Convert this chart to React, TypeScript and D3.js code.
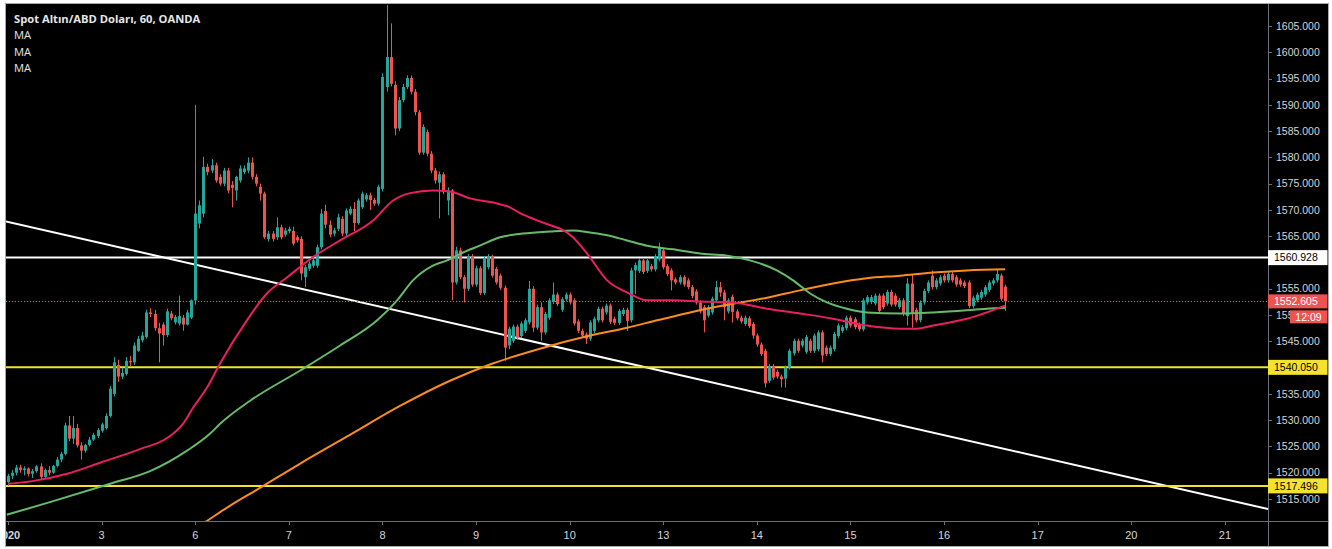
import React from "react";
import * as d3 from "d3";

// ---- Data (hourly OHLC, Spot Gold / USD, OANDA) ----
const opens = [
  1518.2,1519.4,1520.0,1521.0,1520.5,1520.8,1519.8,1520.3,1521.2,1519.2,1520.5,1520.0,1521.3,1522.5,1523.6,1529.0,1526.5,1528.5,1525.2,1524.2,
  1525.3,1526.3,1527.0,1528.0,1528.5,1530.8,1535.0,1540.5,1538.3,1538.8,1541.3,1541.0,1543.2,1545.2,1545.8,1550.5,1550.2,1547.5,1548.2,1546.2,
  1550.3,1548.6,1548.4,1549.5,1548.2,1549.5,1552.8,1567.4,1569.3,1578.2,1577.5,1578.5,1576.3,1575.0,1577.5,1574.8,1573.7,1575.6,1577.2,1577.5,
  1579.0,1576.3,1574.4,1573.1,1564.5,1565.5,1564.8,1566.7,1565.3,1566.0,1566.0,1564.8,1564.5,1557.2,1558.8,1559.4,1559.4,1562.9,1569.8,1567.2,
  1565.5,1566.4,1568.3,1565.5,1569.3,1570.2,1567.5,1570.5,1572.0,1572.8,1571.9,1571.2,1574.0,1593.4,1599.1,1593.8,1585.5,1590.9,1593.4,1595.1,
  1592.5,1588.6,1580.9,1584.8,1580.7,1577.5,1575.2,1576.8,1571.8,1573.7,1556.2,1562.3,1557.2,1555.0,1561.2,1555.8,1558.9,1554.2,1559.1,1561.1,
  1558.8,1557.5,1555.2,1544.2,1545.1,1547.8,1546.0,1547.0,1548.6,1555.0,1547.6,1551.5,1546.7,1549.5,1552.5,1553.9,1551.0,1553.0,1553.9,1552.8,
  1548.8,1547.0,1546.3,1545.5,1547.0,1549.0,1551.2,1550.5,1551.8,1549.3,1548.5,1550.2,1551.0,1549.0,1558.5,1558.4,1560.4,1558.4,1559.3,1558.7,
  1560.6,1562.3,1559.3,1558.5,1556.8,1556.2,1557.2,1556.6,1555.3,1554.5,1552.4,1551.5,1549.9,1550.5,1552.8,1555.3,1554.3,1550.7,1553.5,1550.7,
  1549.5,1548.3,1549.4,1548.3,1546.1,1544.4,1543.2,1537.5,1540.3,1539.2,1538.3,1537.9,1540.0,1542.7,1545.1,1544.2,1543.0,1545.1,1543.2,1543.5,
  1546.7,1543.8,1542.6,1543.5,1546.0,1547.0,1547.5,1549.5,1549.2,1548.2,1547.3,1552.4,1552.5,1552.2,1553.7,1553.7,1552.2,1554.4,1553.7,1551.5,
  1552.8,1549.8,1556.0,1551.0,1549.0,1552.4,1554.6,1557.5,1555.3,1556.0,1557.5,1556.6,1557.8,1557.2,1556.6,1556.2,1556.2,1551.7,1552.8,1553.3,
  1553.9,1554.8,1556.0,1556.6,1557.5,1555.4
];
const highs = [
  1519.8,1520.5,1521.5,1521.5,1521.2,1521.0,1520.7,1521.5,1521.8,1520.8,1521.3,1521.5,1523.0,1524.0,1529.5,1530.8,1530.8,1529.3,1525.8,1525.5,
  1526.8,1527.6,1528.5,1529.5,1531.3,1536.5,1542.0,1541.5,1540.0,1542.0,1542.2,1544.8,1546.0,1546.8,1551.0,1551.3,1551.0,1548.5,1548.6,1551.2,
  1550.8,1550.0,1553.7,1550.0,1551.0,1553.0,1590.0,1571.8,1580.1,1578.8,1579.7,1579.0,1576.8,1578.0,1578.0,1575.5,1576.5,1578.5,1578.5,1580.0,
  1580.0,1576.8,1575.0,1573.5,1566.0,1566.0,1568.6,1567.2,1566.6,1566.8,1566.8,1565.2,1565.0,1559.5,1560.2,1560.8,1563.4,1570.2,1571.0,1568.0,
  1566.6,1569.3,1568.8,1570.3,1570.7,1571.5,1572.2,1573.5,1573.2,1573.3,1572.3,1574.8,1596.0,1609.0,1605.5,1594.5,1591.5,1594.0,1595.6,1595.6,
  1593.0,1589.0,1586.3,1585.3,1581.2,1578.0,1577.3,1577.2,1574.3,1574.0,1563.0,1562.8,1557.6,1561.6,1561.6,1559.4,1559.3,1561.2,1561.6,1561.5,
  1559.2,1557.9,1555.6,1547.8,1548.2,1548.2,1548.8,1549.4,1556.5,1555.5,1552.0,1552.4,1550.6,1553.2,1556.2,1554.3,1553.4,1554.3,1554.3,1553.2,
  1549.2,1547.4,1546.7,1549.0,1549.7,1551.6,1551.6,1552.2,1552.2,1549.7,1551.2,1551.4,1551.4,1559.0,1560.0,1560.8,1560.8,1560.8,1559.7,1561.6,
  1563.8,1562.7,1559.7,1558.9,1557.2,1557.6,1557.6,1557.0,1555.7,1554.9,1552.8,1551.9,1551.9,1553.5,1556.5,1556.3,1554.8,1553.2,1553.9,1551.1,
  1549.9,1549.9,1549.8,1548.7,1546.5,1544.8,1543.6,1540.7,1540.7,1539.6,1538.7,1540.4,1543.6,1545.5,1545.5,1545.5,1546.2,1545.5,1546.5,1547.1,
  1547.1,1544.2,1544.2,1546.8,1548.4,1548.1,1549.9,1549.9,1549.6,1548.6,1553.2,1553.8,1553.8,1554.1,1554.1,1554.1,1554.8,1554.8,1554.1,1553.2,
  1553.2,1557.0,1557.7,1551.4,1552.8,1555.0,1556.6,1558.5,1557.0,1557.6,1557.9,1558.2,1558.2,1557.6,1557.0,1556.6,1556.6,1553.7,1554.3,1554.8,
  1555.7,1556.6,1557.0,1558.6,1557.9,1555.8
];
const lows = [
  1517.5,1518.8,1519.5,1520.0,1519.5,1519.3,1519.0,1520.0,1518.8,1519.0,1519.5,1519.8,1521.0,1522.0,1523.3,1526.0,1525.5,1524.8,1522.5,1523.8,
  1525.0,1526.0,1526.6,1527.6,1528.2,1530.5,1534.5,1537.3,1537.8,1538.5,1540.3,1540.5,1543.0,1544.8,1545.5,1549.6,1547.0,1541.0,1544.2,1545.8,
  1549.0,1548.2,1548.0,1547.0,1548.0,1549.2,1552.0,1566.5,1568.6,1576.6,1577.0,1575.2,1574.6,1574.5,1573.2,1570.5,1571.8,1575.2,1576.8,1577.0,
  1575.8,1574.5,1571.8,1564.5,1564.0,1564.0,1564.3,1564.4,1564.9,1565.6,1563.2,1563.8,1556.6,1555.3,1558.4,1559.0,1559.0,1562.5,1566.5,1564.8,
  1565.0,1566.0,1565.0,1565.0,1569.0,1566.0,1567.2,1570.2,1571.6,1570.0,1570.8,1570.8,1573.5,1592.5,1593.5,1584.2,1585.0,1590.5,1593.0,1592.0,
  1588.0,1580.5,1580.5,1580.2,1577.0,1575.0,1568.4,1573.0,1569.0,1552.8,1555.8,1556.8,1552.4,1554.6,1555.4,1555.4,1553.8,1553.8,1558.7,1557.1,
  1555.8,1554.8,1541.3,1543.5,1544.7,1545.3,1545.6,1546.6,1548.2,1546.8,1547.2,1545.1,1546.3,1549.1,1552.1,1551.7,1550.6,1552.6,1552.0,1548.0,
  1546.6,1545.7,1544.5,1545.1,1546.6,1548.6,1548.6,1550.1,1548.3,1548.1,1548.1,1549.8,1547.0,1548.6,1554.0,1558.0,1557.8,1558.0,1558.3,1558.3,
  1560.2,1558.7,1557.4,1554.7,1555.8,1555.8,1555.4,1554.9,1553.2,1552.0,1550.3,1546.7,1549.5,1550.1,1552.4,1553.5,1549.0,1550.3,1548.6,1549.0,
  1548.4,1547.9,1547.5,1545.5,1544.0,1542.2,1536.2,1537.1,1537.7,1537.9,1536.2,1536.2,1539.6,1542.3,1542.8,1543.8,1542.6,1542.8,1542.8,1543.1,
  1541.0,1542.2,1542.2,1543.1,1545.6,1546.6,1547.1,1547.6,1547.3,1546.9,1546.9,1552.0,1552.1,1551.8,1550.4,1551.1,1551.8,1551.6,1551.6,1551.1,
  1549.8,1548.0,1547.6,1548.6,1548.6,1552.0,1554.2,1554.9,1554.9,1555.6,1556.2,1556.2,1556.2,1555.4,1555.4,1555.1,1551.3,1551.3,1552.4,1552.9,
  1553.5,1554.4,1555.6,1556.2,1552.7,1550.8
];
const closes = [
  1519.4,1520.0,1521.0,1520.5,1520.8,1519.8,1520.3,1521.2,1519.2,1520.5,1520.0,1521.3,1522.5,1523.6,1529.0,1526.5,1528.5,1525.2,1524.2,1525.3,
  1526.3,1527.2,1528.1,1529.2,1530.8,1536.0,1541.0,1538.3,1539.0,1541.3,1541.0,1544.2,1545.5,1546.1,1550.5,1550.2,1547.5,1546.5,1546.2,1550.7,
  1549.4,1549.6,1549.8,1548.2,1550.5,1552.8,1569.3,1570.9,1578.2,1577.2,1578.5,1575.6,1575.0,1577.5,1573.7,1574.2,1576.3,1577.9,1577.9,1579.0,
  1576.3,1575.0,1573.1,1564.8,1565.5,1564.5,1566.7,1564.8,1566.1,1566.4,1563.6,1564.2,1557.9,1559.1,1559.8,1560.4,1562.9,1569.3,1567.2,1565.3,
  1566.1,1568.6,1565.5,1569.9,1570.2,1567.5,1571.8,1573.1,1572.8,1571.9,1571.2,1574.4,1595.3,1599.1,1594.0,1585.5,1590.9,1593.4,1595.1,1592.5,
  1588.6,1580.9,1585.8,1580.7,1577.5,1575.6,1576.8,1573.4,1573.7,1556.2,1562.3,1557.2,1555.0,1561.2,1555.8,1558.9,1554.2,1560.8,1561.1,1557.5,
  1556.2,1555.2,1543.8,1547.4,1547.8,1545.7,1548.4,1549.0,1555.0,1547.6,1551.5,1546.7,1550.2,1552.8,1553.9,1552.1,1553.0,1553.9,1552.4,1548.4,
  1547.0,1546.1,1545.5,1548.6,1549.3,1551.2,1549.0,1551.8,1548.7,1548.5,1550.8,1551.0,1548.9,1558.5,1559.5,1560.4,1558.2,1560.4,1558.7,1561.2,
  1562.9,1559.1,1557.8,1556.6,1556.2,1557.2,1555.8,1555.3,1553.6,1552.4,1550.7,1549.0,1551.5,1553.1,1555.3,1554.3,1551.5,1552.8,1550.6,1549.4,
  1548.8,1549.5,1547.9,1546.1,1544.4,1542.6,1537.0,1540.3,1538.1,1538.3,1537.8,1540.0,1543.2,1545.1,1543.2,1545.1,1545.8,1543.2,1546.1,1546.7,
  1542.3,1542.6,1543.8,1546.4,1548.0,1547.7,1549.5,1548.0,1547.7,1547.3,1552.8,1553.4,1553.4,1553.7,1550.8,1551.5,1554.4,1552.0,1552.0,1552.8,
  1550.2,1556.0,1550.2,1549.0,1552.4,1554.6,1556.2,1555.3,1556.6,1557.2,1556.6,1557.8,1556.6,1555.8,1555.8,1555.5,1551.7,1553.3,1553.9,1554.4,
  1555.3,1556.2,1556.6,1557.8,1553.1,1552.605
];

// Moving averages: [bar index, price]
const maFastBars = [0, 6, 14.5, 22.6, 32.4, 39.1, 43, 45.5, 48.9, 52.1, 58.7, 63.6, 68.6, 74.9, 81.6, 89.7, 94.6, 98.8, 104.4, 108.6, 113.5, 119.2, 123.3, 125.8, 130, 138.8, 142.3, 147.2, 152.1, 157, 163.4, 170, 178.1, 186.5, 194.6, 202.7, 211, 219.2, 223.3, 227.3, 235.6, 245];
const maFastVals = [1517.9, 1518.4, 1519.8, 1521.9, 1524.5, 1526.6, 1529.3, 1532.4, 1536.2, 1540.8, 1549.0, 1554.1, 1557.2, 1561.0, 1564.2, 1568.0, 1571.8, 1573.2, 1573.7, 1573.5, 1572.2, 1571.4, 1570.5, 1569.4, 1568.0, 1564.8, 1561.7, 1556.6, 1554.3, 1552.8, 1552.8, 1552.6, 1552.4, 1551.2, 1550.3, 1549.3, 1548.0, 1547.4, 1547.4, 1548.0, 1549.3, 1551.8];
const maMidBars = [-0.3, 10.3, 25.1, 34.9, 44, 49.6, 52.1, 59.5, 71.7, 81.6, 90.7, 95.6, 99.5, 104.4, 107.9, 111.8, 115.9, 120.9, 126.5, 133.2, 138.8, 143, 147.2, 152.1, 157, 163.4, 170, 176.7, 182.3, 188.9, 192.9, 197.1, 201.2, 206.1, 211, 219.2, 227.3, 235.6, 240.5, 245];
const maMidVals = [1512.0, 1514.4, 1517.9, 1520.3, 1524.2, 1527.4, 1529.3, 1533.7, 1539.4, 1544.2, 1549.0, 1552.8, 1556.6, 1559.4, 1560.4, 1561.9, 1563.2, 1564.8, 1565.5, 1565.9, 1566.1, 1565.7, 1565.2, 1564.2, 1563.2, 1562.5, 1561.7, 1561.3, 1560.4, 1558.5, 1556.6, 1554.1, 1552.4, 1551.2, 1550.5, 1550.3, 1550.5, 1550.9, 1551.2, 1551.4];
const maSlowBars = [46, 48.4, 54.5, 61.9, 71.7, 84, 96.3, 108.6, 118.4, 130.7, 143, 152.1, 159.5, 167.6, 175.7, 186.5, 194.6, 202.7, 211, 219.2, 227.3, 235.6, 245];
const maSlowVals = [1509.4, 1510.6, 1513.7, 1517.1, 1521.7, 1527.2, 1532.7, 1537.5, 1540.6, 1543.6, 1546.1, 1547.6, 1549.0, 1550.5, 1551.8, 1553.3, 1554.7, 1556.0, 1557.0, 1557.5, 1558.1, 1558.5, 1558.7];

const dayTickBars = [0, 23, 46, 69, 92, 115, 138, 161, 184, 207, 230, 253, 276, 299];
const dayTickLabels = ["2020", "3", "6", "7", "8", "9", "10", "13", "14", "15", "16", "17", "20", "21"];
const priceTicks = [1515, 1520, 1525, 1530, 1535, 1545, 1550, 1555, 1565, 1570, 1575, 1580, 1585, 1590, 1595, 1600, 1605];

const resistanceLevel = 1560.928;
const supportLevels = [1540.05, 1517.496];
const lastPrice = 1552.605;
const countdown = "12:09";
const trendBars = [-0.5, 309.6];
const trendPrices = [1567.8, 1513.1];

const title = "Spot Altın/ABD Doları, 60, OANDA";
const legendItems = ["MA", "MA", "MA"];

// ---- Layout ----
const W = 1332, H = 549;
const frameL = 5.5, frameT = 3.5, frameR = 1328.5, frameB = 546.5;
const plotR = 1268, plotB = 521;
const UP = "#26a69a", DOWN = "#ef5350";
const YELLOW = "#f3e330";
const AXIS_TEXT = "#d6d6d6";
const GRID_LINE = "#6b6e76";
const FONT = "'Liberation Sans', Arial, sans-serif";

export default function App() {
  const x = d3.scaleLinear().domain([0, 299]).range([8, 8 + 299 * 4.07]);
  const y = d3.scaleLinear().domain([1515, 1605]).range([499, 26]);

  const ma = (bars: number[], vals: number[]) =>
    d3.line<number>()
      .x((i) => x(bars[i]))
      .y((i) => y(vals[i]))
      .curve(d3.curveMonotoneX)(d3.range(bars.length)) as string;

  const fmt = d3.format(".3f");
  const tagH = 15;

  return (
    <svg width={W} height={H} style={{ position: "absolute", left: 0, top: 0, background: "#fff" }}>
      <defs>
        <clipPath id="plot">
          <rect x={6} y={4} width={plotR - 6} height={plotB - 4} />
        </clipPath>
        <clipPath id="timeaxis">
          <rect x={6} y={plotB} width={plotR - 6} height={frameB - plotB} />
        </clipPath>
      </defs>
      <rect x={frameL} y={frameT} width={frameR - frameL} height={frameB - frameT} fill="#000" stroke="#a9a9a9" strokeWidth={1} />

      <g clipPath="url(#plot)">
        {/* trend line */}
        <line x1={x(trendBars[0])} y1={y(trendPrices[0])} x2={x(trendBars[1])} y2={y(trendPrices[1])} stroke="#ffffff" strokeWidth={2} />
        {/* horizontal levels */}
        <line x1={6} x2={plotR} y1={y(resistanceLevel)} y2={y(resistanceLevel)} stroke="#ffffff" strokeWidth={2} />
        {supportLevels.map((v, k) => (
          <line key={k} x1={6} x2={plotR} y1={y(v)} y2={y(v)} stroke={YELLOW} strokeWidth={2} />
        ))}
        {/* last price dotted */}
        <line x1={6} x2={plotR} y1={Math.round(y(lastPrice)) + 0.5} y2={Math.round(y(lastPrice)) + 0.5} stroke={DOWN} strokeWidth={1} strokeDasharray="1,2" />

        {/* candles */}
        {closes.map((c, i) => {
          const o = opens[i];
          const cx = Math.round(x(i));
          const col = c >= o ? UP : DOWN;
          const top = y(Math.max(o, c));
          const bot = y(Math.min(o, c));
          return (
            <g key={i}>
              <rect x={cx} y={y(highs[i])} width={1} height={Math.max(1, y(lows[i]) - y(highs[i]))} fill={col} />
              <rect x={cx - 1} y={top} width={3} height={Math.max(1, bot - top)} fill={col} />
            </g>
          );
        })}

        {/* moving averages */}
        <path d={ma(maSlowBars, maSlowVals)} fill="none" stroke="#fb8c1e" strokeWidth={2} />
        <path d={ma(maMidBars, maMidVals)} fill="none" stroke="#66bb6a" strokeWidth={2} />
        <path d={ma(maFastBars, maFastVals)} fill="none" stroke="#e91e63" strokeWidth={2} />
      </g>

      {/* axes separators */}
      <line x1={plotR + 0.5} x2={plotR + 0.5} y1={4} y2={frameB} stroke={GRID_LINE} strokeWidth={1} />
      <line x1={6} x2={frameR} y1={plotB + 0.5} y2={plotB + 0.5} stroke={GRID_LINE} strokeWidth={1} />

      {/* price axis */}
      {priceTicks.map((v) => (
        <g key={v}>
          <line x1={plotR} x2={plotR + 4} y1={Math.round(y(v)) + 0.5} y2={Math.round(y(v)) + 0.5} stroke={GRID_LINE} />
          <text x={1276} y={y(v)} dy="0.35em" fontFamily={FONT} fontSize={10.5} fill={AXIS_TEXT}>{fmt(v)}</text>
        </g>
      ))}

      {/* time axis */}
      <g clipPath="url(#timeaxis)">
        {dayTickBars.map((b, k) => (
          <g key={k}>
            <line x1={Math.round(x(b)) + 0.5} x2={Math.round(x(b)) + 0.5} y1={plotB} y2={plotB + 4} stroke={GRID_LINE} />
            <text x={x(b)} y={535} dy="0.35em" textAnchor="middle" fontFamily={FONT} fontSize={11}
              fontWeight={k === 0 ? 700 : 400} fill={AXIS_TEXT}>{dayTickLabels[k]}</text>
          </g>
        ))}
      </g>

      {/* price tags */}
      <g fontFamily={FONT} fontSize={10.5}>
        <rect x={plotR} y={y(resistanceLevel) - tagH / 2} width={frameR - plotR - 1} height={tagH} fill="#ffffff" />
        <text x={1274} y={y(resistanceLevel)} dy="0.35em" fill="#000">{fmt(resistanceLevel)}</text>
        {supportLevels.map((v, k) => (
          <g key={k}>
            <rect x={plotR} y={y(v) - tagH / 2} width={frameR - plotR - 1} height={tagH} fill={YELLOW} />
            <text x={1274} y={y(v)} dy="0.35em" fill="#000">{fmt(v)}</text>
          </g>
        ))}
        <rect x={plotR} y={y(lastPrice) - 7} width={frameR - plotR - 1} height={14} fill={DOWN} />
        <text x={1274} y={y(lastPrice)} dy="0.35em" fill="#fff">{fmt(lastPrice)}</text>
        <rect x={1290} y={y(lastPrice) + 9} width={frameR - 1290 - 1} height={13} fill={DOWN} />
        <text x={1308.5} y={y(lastPrice) + 15.5} dy="0.35em" textAnchor="middle" fill="#fff">{countdown}</text>
      </g>

      {/* legend */}
      <g fontFamily="'Open Sans', sans-serif" fill="#e6e6e6">
        <text x={14} y={23} fontSize={11.2} fontWeight={700}>{title}</text>
        {legendItems.map((t, k) => (
          <text key={k} x={14} y={39 + k * 16.5} fontSize={11.2}>{t}</text>
        ))}
      </g>
    </svg>
  );
}
